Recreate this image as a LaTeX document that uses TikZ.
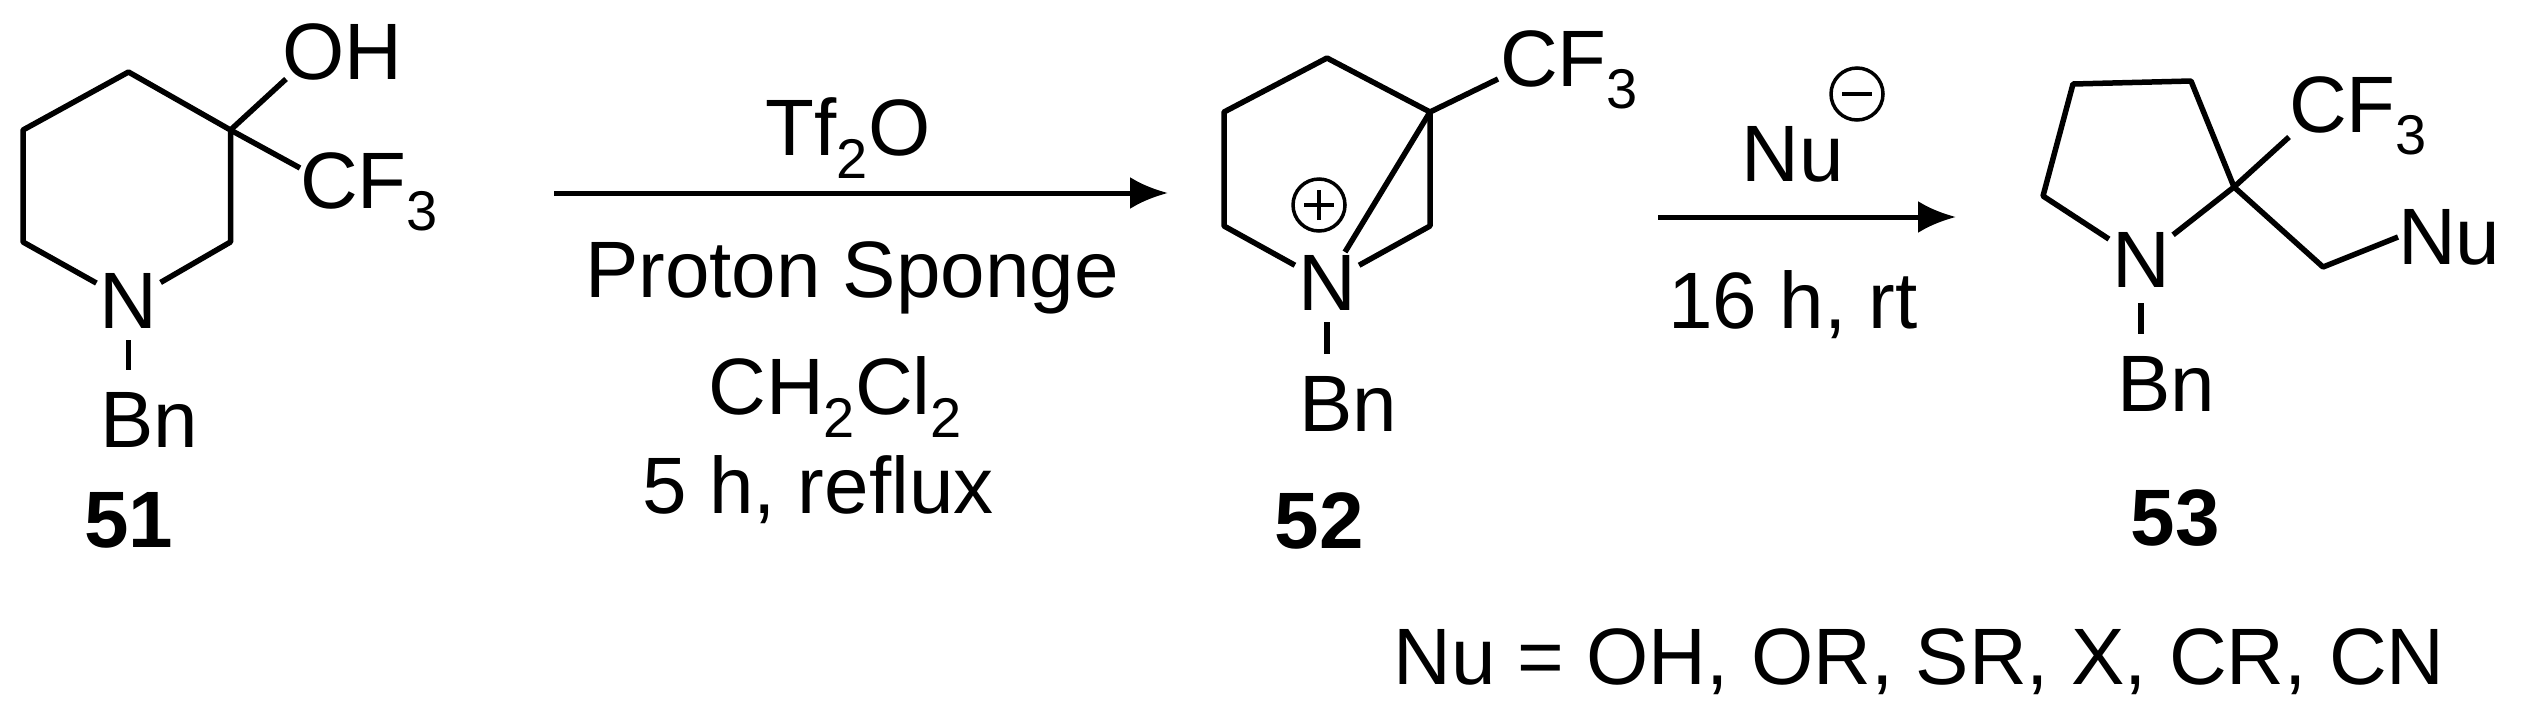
\documentclass[tikz,border=0pt]{standalone}
\usepackage{fontspec}
\setmainfont{Liberation Sans}
\newcommand{\sbs}[1]{\raisebox{-0.28em}{\fontsize{56}{56}\selectfont #1}}
\begin{document}
\begin{tikzpicture}[x=1pt,y=-1pt,
  atom/.style={inner sep=3pt,font=\fontsize{80}{84}\selectfont},
  lbl/.style={inner sep=0pt,font=\fontsize{80}{84}\selectfont},
  cpd/.style={inner sep=0pt,font=\fontsize{80}{84}\selectfont\bfseries},
  bond/.style={line width=5.5pt,line join=round},
  chg/.style={circle,draw,line width=3.5pt,minimum size=52pt,inner sep=0pt},
  rxn/.style={line width=5pt,-{Latex[length=38pt,width=32pt]}}]
\usetikzlibrary{arrows.meta}
\useasboundingbox (0,0) rectangle (2529,716);
% 51
\node[atom] (n51) at (128.5,301) {N};
\coordinate (a1) at (128.5,72);
\coordinate (a2) at (23,130);
\coordinate (a3) at (23,242);
\coordinate (a5) at (230.5,242);
\coordinate (a6) at (230.5,130);
\node[lbl,anchor=west] (oh51) at (282,52) {OH};
\node[lbl,anchor=west] (cf51) at (300,192) {CF\sbs{3}};
\coordinate (oh51b) at (286,79);
\coordinate (cf51b) at (300,168);
\draw[bond] (n51) -- (a3) -- (a2) -- (a1) -- (a6) -- (a5) -- (n51);
\draw[bond] (a6) -- (oh51b);
\draw[bond] (a6) -- (cf51b);
\node[lbl] (bn51) at (149,420) {Bn};
\coordinate (b51t) at (128.5,340);
\coordinate (b51b) at (128.5,370);
\draw[bond] (b51t) -- (b51b);
\node[cpd] (c51) at (128.5,520) {51};
% arrow 1
\coordinate (r1s) at (554,193);
\coordinate (r1e) at (1168,193);
\draw[rxn] (r1s) -- (r1e);
\node[lbl] (tf) at (848,138) {Tf\sbs{2}O};
\node[lbl] (ps) at (852,278) {Proton Sponge};
\node[lbl] (dcm) at (835,397) {CH\sbs{2}Cl\sbs{2}};
\node[lbl] (rf) at (818,490) {5 h, reflux};
% 52
\node[atom] (n52) at (1327,283) {N};
\coordinate (b1) at (1327,58);
\coordinate (b2) at (1224,112);
\coordinate (b3) at (1224,226);
\coordinate (b5) at (1430,226);
\coordinate (b6) at (1430,112);
\coordinate (cf52b) at (1498,79);
\node[lbl,anchor=west] (cf52) at (1500,70) {CF\sbs{3}};
\coordinate (br) at (1345,252);
\draw[bond] (n52) -- (b3) -- (b2) -- (b1) -- (b6) -- (b5) -- (n52);
\draw[bond] (b6) -- (cf52b);
\draw[bond] (b6) -- (br);
\node[chg] (plus) at (1319,205) {};
\draw[line width=3.5pt] ([xshift=-15pt]plus.center) -- ([xshift=15pt]plus.center);
\draw[line width=3.5pt] ([yshift=-15pt]plus.center) -- ([yshift=15pt]plus.center);
\node[lbl] (bn52) at (1348,404) {Bn};
\coordinate (b52t) at (1327,322);
\coordinate (b52b) at (1327,354);
\draw[bond] (b52t) -- (b52b);
\node[cpd] (c52) at (1319,521) {52};
% arrow 2
\coordinate (r2s) at (1658,217);
\coordinate (r2e) at (1956,217);
\draw[rxn] (r2s) -- (r2e);
\node[lbl] (nu) at (1793,154) {Nu};
\node[chg] (minus) at (1857,94) {};
\draw[line width=3.5pt] ([xshift=-15pt]minus.center) -- ([xshift=15pt]minus.center);
\node[lbl] (rt) at (1793,305) {16 h, rt};
% 53
\node[atom] (n53) at (2141,260) {N};
\coordinate (d1) at (2043,196);
\coordinate (d2) at (2073,84);
\coordinate (d3) at (2191,81);
\coordinate (d4) at (2234,187);
\coordinate (cf53b) at (2289,137);
\node[lbl,anchor=west] (cf53) at (2289,116) {CF\sbs{3}};
\coordinate (ch2) at (2323,267);
\node[lbl,anchor=west] (nu53) at (2398,237) {Nu};
\draw[bond] (n53) -- (d1) -- (d2) -- (d3) -- (d4) -- (n53);
\draw[bond] (d4) -- (cf53b);
\draw[bond] (d4) -- (ch2) -- (nu53.west);
\node[lbl] (bn53) at (2166,384) {Bn};
\coordinate (b53t) at (2141,303);
\coordinate (b53b) at (2141,334);
\draw[bond] (b53t) -- (b53b);
\node[cpd] (c53) at (2175,518) {53};
\node[lbl] (nulist) at (1919,662) {Nu = OH, OR, SR, X, CR, CN};
\end{tikzpicture}
\end{document}
